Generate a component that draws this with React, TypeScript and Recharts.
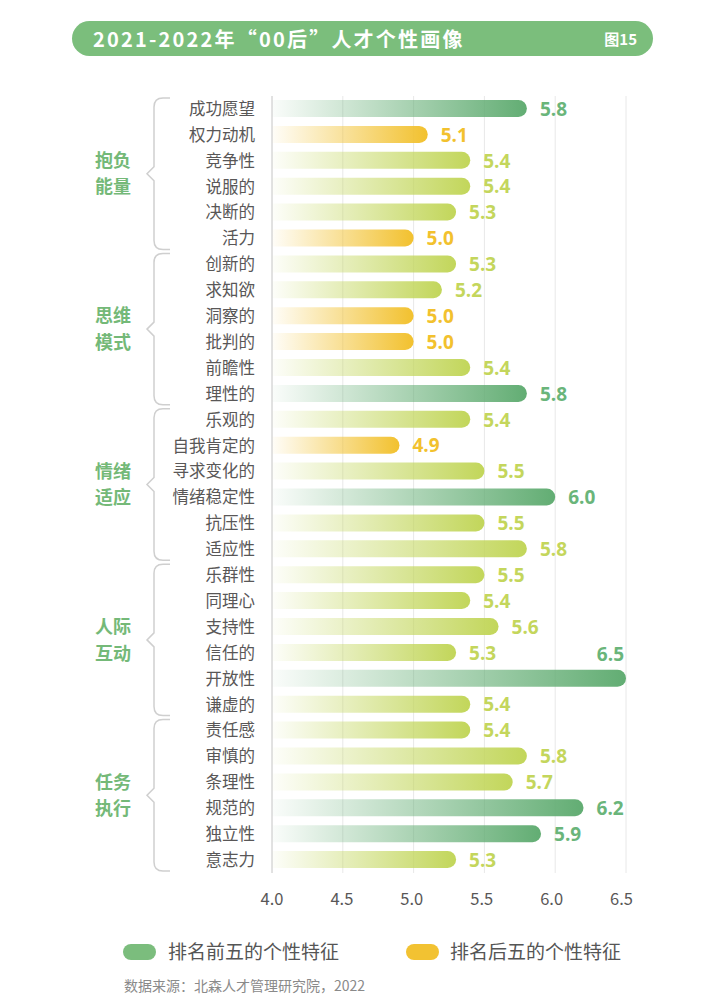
import React from 'react';
import { BarChart, Bar, XAxis, YAxis, CartesianGrid, LabelList } from 'recharts';

const categories = [
  '成功愿望', '权力动机', '竞争性', '说服的', '决断的', '活力',
  '创新的', '求知欲', '洞察的', '批判的', '前瞻性', '理性的',
  '乐观的', '自我肯定的', '寻求变化的', '情绪稳定性', '抗压性', '适应性',
  '乐群性', '同理心', '支持性', '信任的', '开放性', '谦虚的',
  '责任感', '审慎的', '条理性', '规范的', '独立性', '意志力',
];
const values = [
  5.8, 5.1, 5.4, 5.4, 5.3, 5.0,
  5.3, 5.2, 5.0, 5.0, 5.4, 5.8,
  5.4, 4.9, 5.5, 6.0, 5.5, 5.8,
  5.5, 5.4, 5.6, 5.3, 6.5, 5.4,
  5.4, 5.8, 5.7, 6.2, 5.9, 5.3,
];
// 'top' = 排名前五, 'bottom' = 排名后五, 'mid' = others
const ranks = [
  'top', 'bottom', 'mid', 'mid', 'mid', 'bottom',
  'mid', 'mid', 'bottom', 'bottom', 'mid', 'top',
  'mid', 'bottom', 'mid', 'top', 'mid', 'mid',
  'mid', 'mid', 'mid', 'mid', 'top', 'mid',
  'mid', 'mid', 'mid', 'top', 'top', 'mid',
];
const groupNames = [['抱负', '能量'], ['思维', '模式'], ['情绪', '适应'], ['人际', '互动'], ['任务', '执行']];
const groupSizes = [6, 6, 6, 6, 6];
const xTicks = [4, 4.5, 5, 5.5, 6, 6.5];
const legendLabels = ['排名前五的个性特征', '排名后五的个性特征'];
const titleText = '2021-2022年“00后”人才个性画像';
const figLabel = '图15';
const sourceText = '数据来源：北森人才管理研究院，2022';

const data = categories.map((name, i) => ({ name, value: values[i], rank: ranks[i] }));

const W = 724;
const H = 1004;
const M = { top: 96, right: 98, bottom: 91, left: 0 };
const X_AXIS_H = 40;
const Y_AXIS_W = 272;
const PLOT_H = H - M.top - M.bottom - X_AXIS_H;
const STEP = PLOT_H / categories.length;

const barColors: Record<string, string> = { top: '#62AD73', mid: '#C2D65A', bottom: '#F2C12E' };
const labelColors: Record<string, string> = { top: '#6AB57A', mid: '#C4D65C', bottom: '#F2C12E' };
const CJK = '"Noto Sans CJK SC", "Noto Sans", sans-serif';
const NUM = '"Open Sans", "Noto Sans", sans-serif';

const groupStarts: number[] = [];
{
  let s = 0;
  groupSizes.forEach((g) => { groupStarts.push(s); s += g; });
}

const GFS = 18; // group label font size
const GSP = 26.4; // group label line spacing

const YTick = (props: any) => {
  const { x, y, payload } = props;
  const idx = categories.indexOf(payload.value);
  const gi = groupStarts.indexOf(idx);
  let brace = null;
  if (gi >= 0) {
    const top = y - STEP / 2 + 2;
    const bottom = y + (groupSizes[gi] - 0.5) * STEP - 2;
    const mid = (top + bottom) / 2;
    const bx = 154;
    const d = `M ${bx + 16} ${top} H ${bx + 9} Q ${bx} ${top} ${bx} ${top + 9} V ${mid - 7} L ${bx - 7} ${mid} L ${bx} ${mid + 7} V ${bottom - 9} Q ${bx} ${bottom} ${bx + 9} ${bottom} H ${bx + 16}`;
    brace = (
      <g>
        <path d={d} fill="none" stroke="#CFCFCF" strokeWidth={1.5} />
        <text x={113} y={mid - GSP / 2} dy="0.36em" textAnchor="middle" fontSize={GFS} fontWeight={700} fill="#74B978" fontFamily={CJK}>
          {groupNames[gi][0]}
        </text>
        <text x={113} y={mid + GSP / 2} dy="0.36em" textAnchor="middle" fontSize={GFS} fontWeight={700} fill="#74B978" fontFamily={CJK}>
          {groupNames[gi][1]}
        </text>
      </g>
    );
  }
  return (
    <g>
      <text x={x} y={y} dy="0.36em" textAnchor="end" fontSize={16.5} fill="#595757" fontFamily={CJK}>
        {payload.value}
      </text>
      {brace}
    </g>
  );
};

const XTick = (props: any) => {
  const { x, y, payload } = props;
  const v = payload.value as number;
  return (
    <text x={x - (v - 4) * 1.8} y={y + 24} textAnchor="middle" fontSize={16.5} fill="#595757" fontFamily={CJK}>
      {v.toFixed(1)}
    </text>
  );
};

const BarShape = (props: any) => {
  const { x, y, width, height, payload } = props;
  if (width == null || height == null) return null;
  const r = height / 2;
  const w = Math.max(width, r);
  const d = `M ${x} ${y} H ${x + w - r} A ${r} ${r} 0 0 1 ${x + w - r} ${y + height} H ${x} Z`;
  return <path d={d} fill={`url(#grad-${payload.rank})`} />;
};

const ValueLabel = (props: any) => {
  const { x, y, width, height, value, index } = props;
  const i = typeof index === 'number' ? index : 0;
  const rank = ranks[i];
  const color = labelColors[rank];
  const txt = Number(value).toFixed(1);
  if (Number(value) >= 6.4) {
    return (
      <text x={x + width - 2} y={y - 16} dy="0.36em" textAnchor="end" fontSize={19} fontWeight={700} fill={color} fontFamily={NUM}>
        {txt}
      </text>
    );
  }
  return (
    <text x={x + width + 13} y={y + height / 2} dy="0.38em" textAnchor="start" fontSize={19} fontWeight={700} fill={color} fontFamily={NUM}>
      {txt}
    </text>
  );
};

export default function App() {
  return (
    <div style={{ position: 'absolute', left: 0, top: 0, width: W, height: H, background: '#fff', overflow: 'hidden', fontFamily: CJK }}>
      <div
        style={{
          position: 'absolute', left: 72, top: 21, width: 581, height: 35, borderRadius: 18,
          background: '#7BBE7C', color: '#fff',
        }}
      >
        <div style={{ position: 'absolute', left: 21, top: 0, lineHeight: '35px', fontSize: 20, fontWeight: 700, letterSpacing: 2.2, whiteSpace: 'nowrap' }}>
          {titleText}
        </div>
        <div style={{ position: 'absolute', right: 16, top: 0, lineHeight: '35px', fontSize: 15, fontWeight: 700, whiteSpace: 'nowrap' }}>
          {figLabel}
        </div>
      </div>
      <div style={{ position: 'absolute', left: 0, top: 0 }}>
        <BarChart width={W} height={H} data={data} layout="vertical" margin={M} barCategoryGap={0}>
          <defs>
            {Object.keys(barColors).map((k) => (
              <linearGradient key={k} id={`grad-${k}`} x1="0" y1="0" x2="1" y2="0">
                <stop offset="0%" stopColor={barColors[k]} stopOpacity={0.03} />
                <stop offset="100%" stopColor={barColors[k]} stopOpacity={1} />
              </linearGradient>
            ))}
          </defs>
          <CartesianGrid horizontal={false} vertical stroke="#E8E8E8" strokeWidth={1} />
          <XAxis
            type="number"
            domain={[4, 6.5]}
            ticks={xTicks}
            axisLine={false}
            tickLine={false}
            height={X_AXIS_H}
            tick={<XTick />}
            interval={0}
            allowDataOverflow
          />
          <YAxis
            type="category"
            dataKey="name"
            width={Y_AXIS_W}
            axisLine={{ stroke: '#D6D6D6', strokeWidth: 1.2 }}
            tickLine={false}
            tickMargin={11}
            interval={0}
            tick={<YTick />}
          />
          <Bar dataKey="value" barSize={17} isAnimationActive={false} shape={<BarShape />}>
            <LabelList dataKey="value" content={<ValueLabel />} />
          </Bar>
        </BarChart>
      </div>
      <div style={{ position: 'absolute', left: 123, top: 944, width: 33, height: 16, borderRadius: 8, background: '#7BBD7D' }} />
      <div style={{ position: 'absolute', left: 168, top: 936, lineHeight: '30px', fontSize: 19, color: '#555', whiteSpace: 'nowrap' }}>
        {legendLabels[0]}
      </div>
      <div style={{ position: 'absolute', left: 406, top: 944, width: 33, height: 16, borderRadius: 8, background: '#F2C232' }} />
      <div style={{ position: 'absolute', left: 450, top: 936, lineHeight: '30px', fontSize: 19, color: '#555', whiteSpace: 'nowrap' }}>
        {legendLabels[1]}
      </div>
      <div style={{ position: 'absolute', left: 124, top: 975, lineHeight: '20px', fontSize: 14, color: '#8A8A8A', whiteSpace: 'nowrap' }}>
        {sourceText}
      </div>
    </div>
  );
}
